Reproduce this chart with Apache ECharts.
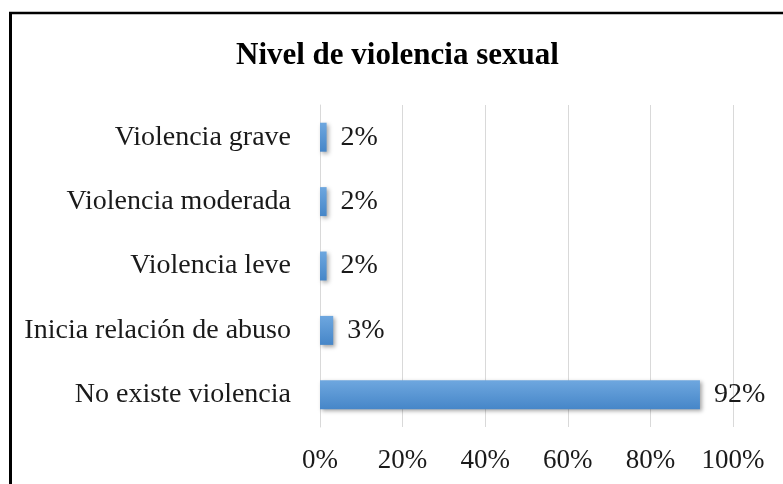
<!DOCTYPE html>
<html>
<head>
<meta charset="utf-8">
<script src="https://cdn.jsdelivr.net/npm/echarts@6/dist/echarts.min.js"></script>
<style>
html, body { margin: 0; padding: 0; background: #fff; }
#main { width: 783px; height: 484px; }
</style>
</head>
<body>
<div id="main"></div>
<script>
// categories (bottom to top, as on the axis)
var categories = ['No existe violencia', 'Inicia relación de abuso', 'Violencia leve', 'Violencia moderada', 'Violencia grave'];
var values = [92, 3.2, 1.6, 1.6, 1.6];
var xTicks = [0, 20, 40, 60, 80, 100];

var chart = echarts.init(document.getElementById('main'));
var option = {
	backgroundColor: '#fff',
	title: {
		text: 'Nivel de violencia sexual',
		left: 231,
		top: 35,
		textStyle: {
			fontFamily: 'Liberation Serif',
			fontWeight: 'bold',
			fontSize: 31,
			color: '#000'
		}
	},
	graphic: [{
		type: 'line',
		shape: { x1: 10.5, y1: 12, x2: 10.5, y2: 484 },
		style: { stroke: '#000', lineWidth: 3 }
	}, {
		type: 'line',
		shape: { x1: 9, y1: 13, x2: 783, y2: 13 },
		style: { stroke: '#000', lineWidth: 2.5 }
	}],
	grid: {
		left: 320,
		right: 50,
		top: 105,
		bottom: 57
	},
	xAxis: {
		type: 'value',
		min: xTicks[0],
		max: xTicks[xTicks.length - 1],
		interval: 20,
		axisLine: { show: false },
		axisTick: { show: false },
		splitLine: { lineStyle: { color: '#d9d9d9', width: 1 } },
		axisLabel: {
			margin: 20,
			fontFamily: 'Liberation Serif',
			fontSize: 27,
			color: '#1a1a1a',
			formatter: function(v) { return v + '%'; }
		}
	},
	yAxis: {
		type: 'category',
		data: categories,
		axisTick: { show: false },
		axisLine: { show: true, lineStyle: { color: '#d9d9d9' } },
		axisLabel: {
			margin: 29,
			fontFamily: 'Liberation Serif',
			fontSize: 28,
			color: '#1a1a1a'
		}
	},
	series: [{
		type: 'bar',
		data: values,
		barWidth: '45%',
		itemStyle: {
			color: new echarts.graphic.LinearGradient(0, 0, 0, 1, [
				{ offset: 0, color: '#6ea7df' },
				{ offset: 1, color: '#4686c8' }
			]),
			shadowColor: 'rgba(0,0,0,0.35)',
			shadowBlur: 4,
			shadowOffsetX: 2,
			shadowOffsetY: 2
		},
		label: {
			show: true,
			position: 'right',
			distance: 14,
			fontFamily: 'Liberation Serif',
			fontSize: 28,
			color: '#1a1a1a',
			formatter: function(p) { return Math.round(p.value) + '%'; }
		}
	}]
};
chart.setOption(option);
</script>
</body>
</html>
